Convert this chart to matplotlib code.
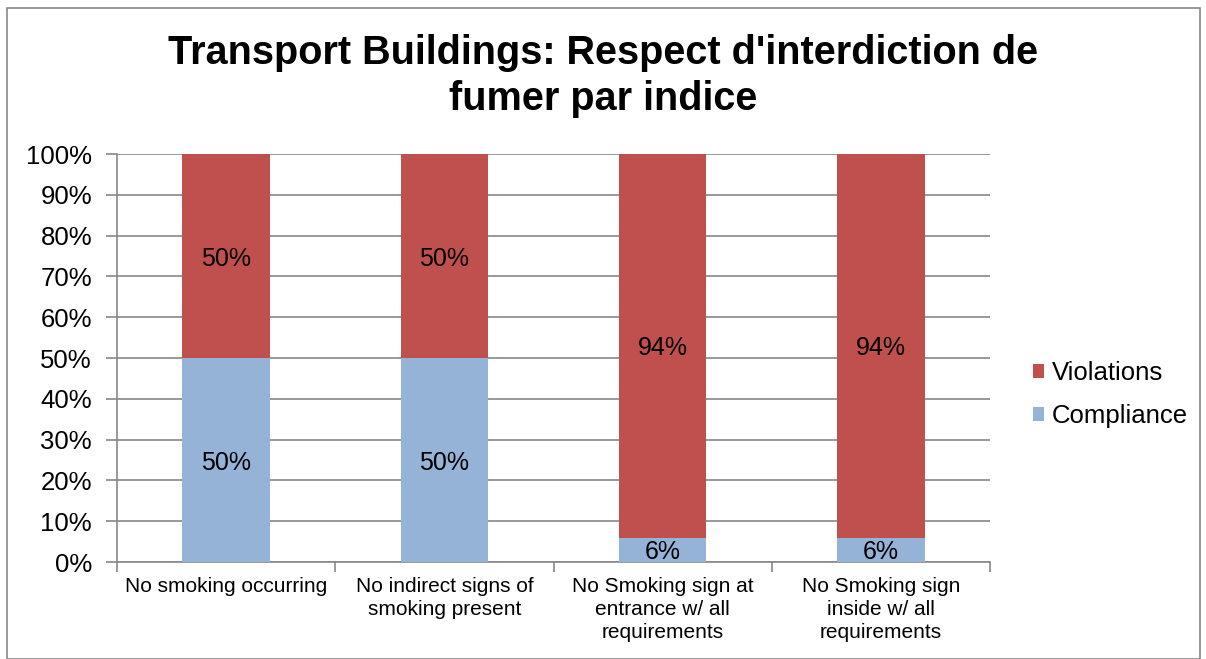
import matplotlib
matplotlib.use("Agg")
import matplotlib.pyplot as plt
import numpy as np
from matplotlib.patches import Rectangle

categories = ["No smoking occurring", "No indirect signs of\nsmoking present",
              "No Smoking sign at\nentrance w/ all\nrequirements",
              "No Smoking sign\ninside w/ all\nrequirements"]
compliance = [50, 50, 6, 6]
violations = [50, 50, 94, 94]
yticks = [0, 10, 20, 30, 40, 50, 60, 70, 80, 90, 100]
title = "Transport Buildings: Respect d'interdiction de\nfumer par indice"

plt.rcParams['font.family'] = ['Liberation Sans', 'DejaVu Sans']

fig = plt.figure(figsize=(12.06, 6.59), dpi=100)
ax = fig.add_axes([117/1206, 1-562/659, (990-117)/1206, (562-154)/659])

blue = "#95B3D7"
red = "#C0504D"
x = np.arange(len(categories))
w = 0.4
b1 = ax.bar(x, compliance, w, color=blue, label="Compliance", zorder=3)
b2 = ax.bar(x, violations, w, bottom=compliance, color=red, label="Violations", zorder=3)

for i in range(len(categories)):
    ax.text(x[i], compliance[i]/2, f"{compliance[i]}%", ha='center', va='center_baseline', fontsize=18, zorder=4)
    ax.text(x[i], compliance[i] + violations[i]/2, f"{violations[i]}%", ha='center', va='center_baseline', fontsize=18, zorder=4)

ax.set_xlim(-0.5, len(categories)-0.5)
ax.set_ylim(0, 100)
ax.set_yticks(yticks)
ax.set_yticklabels([f"{v}%" for v in yticks], fontsize=18.5)
ax.yaxis.grid(True, color="#888888", linewidth=1.2, zorder=0)
ax.set_xticks(x)
ax.set_xticklabels(categories, fontsize=15, linespacing=1.25)
ax.tick_params(axis='x', length=0, pad=11)
ax.set_xticks(np.arange(len(categories)+1) - 0.5, minor=True)
ax.tick_params(axis='x', which='minor', length=7, color="#888888", width=1.2)
ax.tick_params(axis='y', length=8, color="#888888", width=1.2, pad=10)
for s in ['top', 'right']:
    ax.spines[s].set_visible(False)
for s in ['left', 'bottom']:
    ax.spines[s].set_color("#888888")
    ax.spines[s].set_linewidth(1.2)

handles = [b2, b1]
ax.legend(handles, ["Violations", "Compliance"], loc='center left', bbox_to_anchor=(1.037, 0.41),
          frameon=False, fontsize=18.5, handlelength=0.45, handleheight=0.45, handletextpad=0.3,
          labelspacing=0.72, borderaxespad=0)

fig.text(0.5, 1-76/659, title, ha='center', va='center', fontsize=28.5, fontweight='bold', linespacing=1.24)

fig.patches.append(Rectangle((7/1206, 0), (1200-7)/1206, (659-8)/659, transform=fig.transFigure,
                             fill=False, edgecolor="#888888", linewidth=1.2))

fig.savefig("out.png", dpi=100)
